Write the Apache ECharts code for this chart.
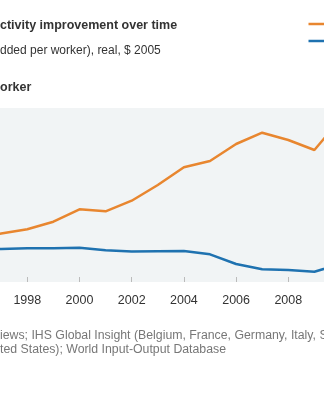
<!DOCTYPE html>
<html>
<head>
<meta charset="utf-8">
<script src="https://cdn.jsdelivr.net/npm/echarts@6/dist/echarts.min.js"></script>
<style>
html,body{margin:0;padding:0;background:#fff;}
#chart{width:324px;height:400px;}
</style>
</head>
<body>
<div id="chart"></div>
<script>
// Data (y in arbitrary units, axis hidden in the crop)
var years = [1996, 1997, 1998, 1999, 2000, 2001, 2002, 2003, 2004, 2005, 2006, 2007, 2008, 2009, 2010];
var orangeValues = [42, 48.5, 52.7, 60.3, 72.7, 70.7, 81.3, 97, 114.7, 121, 138, 149.3, 142, 132, 163];
var blueValues = [32.5, 33, 33.7, 33.7, 34.3, 31.7, 30.5, 30.8, 31, 27.7, 18, 12.7, 12, 10.3, 18];
var tickYears = [1998, 2000, 2002, 2004, 2006, 2008];

var titleText = 'ctivity improvement over time';
var subtitleText = 'dded per worker), real, $ 2005';
var panelText = 'orker';
var sourceLine1 = 'iews; IHS Global Insight (Belgium, France, Germany, Italy, S';
var sourceLine2 = 'ted States); World Input-Output Database';

var ORANGE = '#e8862f';
var BLUE = '#1f72b0';
var FONT = '"Liberation Sans", Arial, Helvetica, sans-serif';

function pairs(vals) { return years.map(function (y, i) { return [y, vals[i]]; }); }

var chart = echarts.init(document.getElementById('chart'), null, {renderer: 'canvas'});
chart.setOption({
  animation: false,
  backgroundColor: '#ffffff',
  grid: {
    left: 0, right: 0, top: 108, bottom: 118,
    show: true, backgroundColor: '#f1f4f5', borderWidth: 0
  },
  xAxis: {
    type: 'value',
    min: 1996.954, max: 2009.368,
    axisLine: {show: false},
    splitLine: {show: false},
    axisTick: {show: true, inside: true, length: 5, customValues: tickYears, lineStyle: {color: '#bbbbbb', width: 1}},
    axisLabel: {customValues: tickYears, margin: 12, color: '#333333', fontSize: 12.5, fontFamily: FONT,
      formatter: function (v) { return String(v); }}
  },
  yAxis: {
    type: 'value', min: 0, max: 174, show: false, splitLine: {show: false}
  },
  series: [
    {name: 'Orange', type: 'line', data: pairs(orangeValues), symbol: 'none',
      lineStyle: {color: ORANGE, width: 2.5}, itemStyle: {color: ORANGE}},
    {name: 'Blue', type: 'line', data: pairs(blueValues), symbol: 'none',
      lineStyle: {color: BLUE, width: 2.5}, itemStyle: {color: BLUE}}
  ],
  graphic: [
    {type: 'text', left: 0, top: 19, style: {text: titleText, font: 'bold 12.5px ' + FONT, fill: '#333333'}},
    {type: 'text', left: 0, top: 45, style: {text: subtitleText, font: '12px ' + FONT, fill: '#333333'}},
    {type: 'text', left: 0, top: 81, style: {text: panelText, font: 'bold 12.5px ' + FONT, fill: '#333333'}},
    {type: 'text', left: 0, top: 330, style: {text: sourceLine1, font: '12.3px ' + FONT, fill: '#777777'}},
    {type: 'text', left: 0, top: 344, style: {text: sourceLine2, font: '12.3px ' + FONT, fill: '#777777'}},
    {type: 'line', shape: {x1: 308.5, y1: 24, x2: 330, y2: 24}, style: {stroke: ORANGE, lineWidth: 2.5}},
    {type: 'line', shape: {x1: 308.5, y1: 41, x2: 330, y2: 41}, style: {stroke: BLUE, lineWidth: 2.5}}
  ]
});
</script>
</body>
</html>
